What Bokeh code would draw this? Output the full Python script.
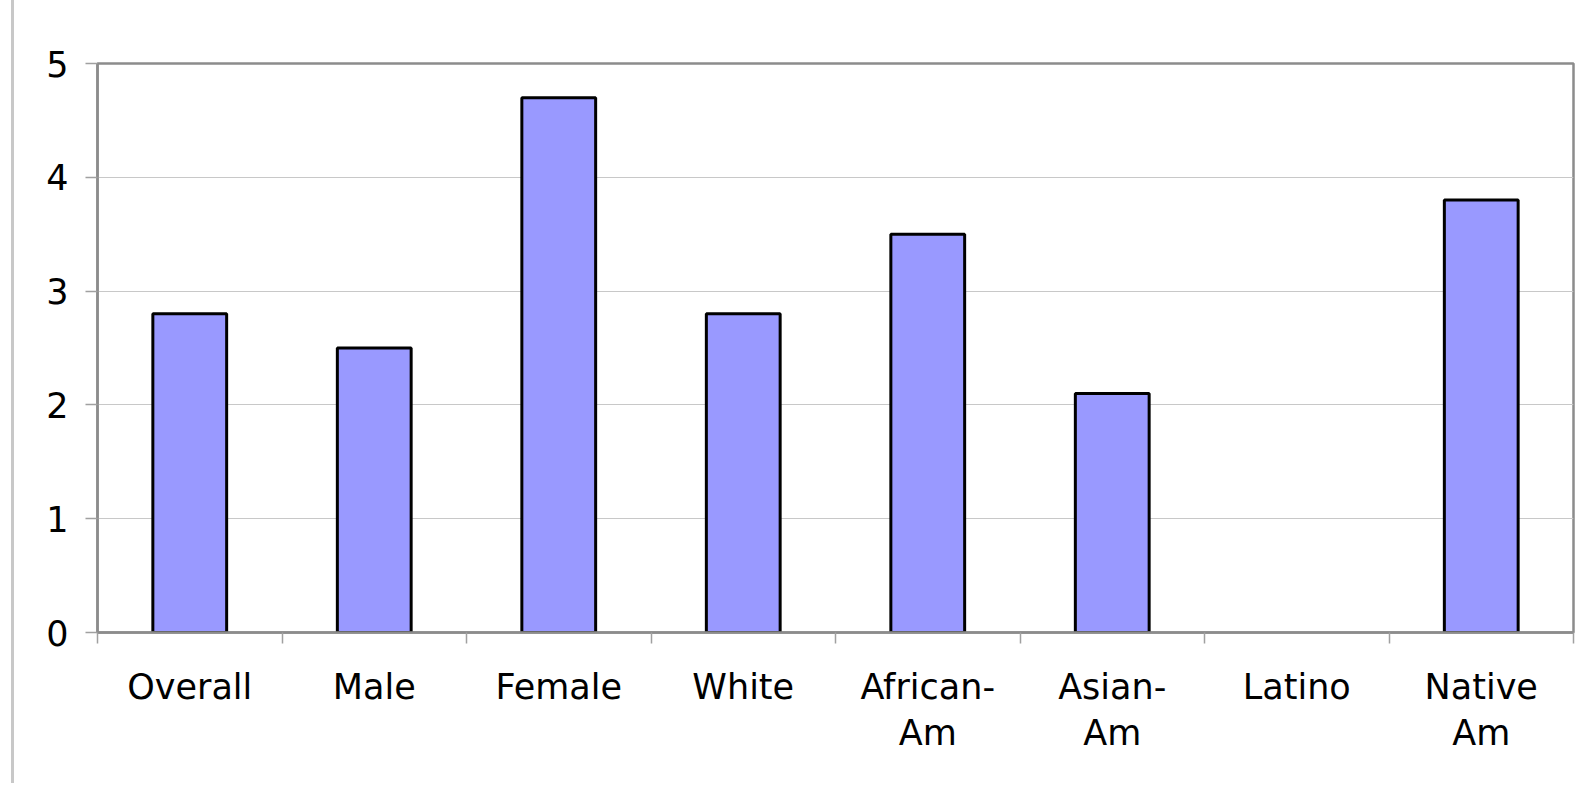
import numpy as np
from bokeh.plotting import figure
from bokeh.models import ColumnDataSource, FixedTicker, Range1d, Div, LinearAxis
from bokeh.layouts import row
from bokeh.embed import file_html
from bokeh.resources import INLINE

categories = ["Overall", "Male", "Female", "White", "African-\nAm", "Asian-\nAm", "Latino", "Native\nAm"]
values = [2.8, 2.5, 4.7, 2.8, 3.5, 2.1, float("nan"), 3.8]
y_ticks = [0, 1, 2, 3, 4, 5]

n = len(categories)
xpos = np.arange(n) + 0.5
src = ColumnDataSource(dict(x=xpos, top=values))

FONT = "DejaVu Sans"

p = figure(width=1575, height=786, output_backend="svg", toolbar_location=None,
           x_range=Range1d(0, n), y_range=Range1d(0, 5))
p.min_border_left = 83
p.min_border_right = 16
p.min_border_top = 63
p.min_border_bottom = 154
p.background_fill_color = "white"
p.border_fill_color = "white"
p.outline_line_color = "#8c8c8c"
p.outline_line_width = 2.5

p.vbar(x="x", top="top", bottom=0, width=0.4, source=src,
       fill_color="#9999FF", line_color="black", line_width=3)

# y axis
p.yaxis.ticker = FixedTicker(ticks=y_ticks)
p.yaxis.axis_line_color = "#8c8c8c"
p.yaxis.axis_line_width = 2.5
p.yaxis.major_tick_line_color = "#a0a0a0"
p.yaxis.major_tick_line_width = 1.5
p.yaxis.major_tick_out = 12
p.yaxis.major_tick_in = 0
p.yaxis.minor_tick_line_color = None
p.yaxis.major_label_text_font = FONT
p.yaxis.major_label_text_font_size = "35px"
p.yaxis.major_label_text_color = "black"
p.yaxis.major_label_standoff = 17

# main x axis: line + tick marks at category boundaries, no labels
xa = p.xaxis[0]
xa.ticker = FixedTicker(ticks=list(range(n + 1)))
xa.axis_line_color = "#8c8c8c"
xa.axis_line_width = 2.5
xa.major_tick_line_color = "#a0a0a0"
xa.major_tick_line_width = 1.5
xa.major_tick_out = 11
xa.major_tick_in = 0
xa.minor_tick_line_color = None
xa.major_label_text_color = None
xa.major_label_standoff = 0

# label axis: category names at bar centers
label_axis = LinearAxis(ticker=FixedTicker(ticks=list(xpos)),
                        major_label_overrides={float(xv): c for xv, c in zip(xpos, categories)},
                        axis_line_color=None, major_tick_line_color=None,
                        minor_tick_line_color=None,
                        major_label_text_font=FONT,
                        major_label_text_font_size="35px",
                        major_label_text_color="black",
                        major_label_text_line_height=1.15,
                        major_label_standoff=17)
p.add_layout(label_axis, "below")

p.xgrid.grid_line_color = None
p.ygrid.ticker = FixedTicker(ticks=y_ticks)
p.ygrid.grid_line_color = "#c8c8c8"
p.ygrid.grid_line_width = 1

left = Div(text="", width=14, height=786,
           styles={"border-right": "3px solid #c8c8c8", "height": "783px",
                   "margin": "0", "box-sizing": "border-box"})

layout = row(left, p, spacing=0)
open("out.html", "w").write(file_html(layout, INLINE))
